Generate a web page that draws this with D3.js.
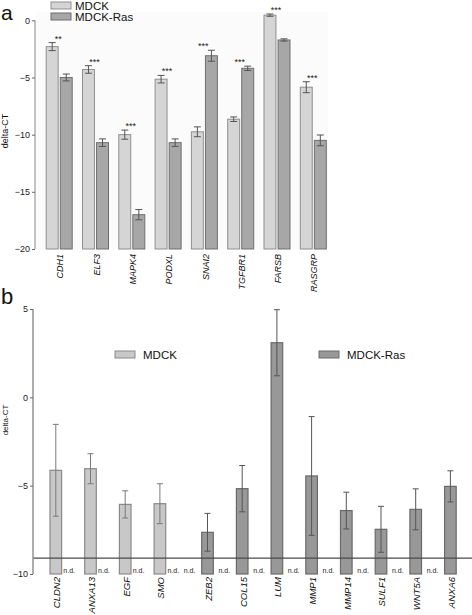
<!DOCTYPE html>
<html><head><meta charset="utf-8">
<script src="https://cdn.jsdelivr.net/npm/d3@7"></script>
<style>
body{margin:0;background:#fff;}
svg{display:block;font-family:"Liberation Sans",Arial,Helvetica,sans-serif;}
</style></head>
<body>
<svg id="chart" width="472" height="615"></svg>
<script>
// ---------- Panel a data ----------
const seriesNames = ["MDCK", "MDCK-Ras"];
const genesA = ["CDH1","ELF3","MAPK4","PODXL","SNAI2","TGFBR1","FARSB","RASGRP"];
const mdckA = [-2.3, -4.3, -10.0, -5.15, -9.75, -8.65, 0.45, -5.85];
const mdckAErr = [0.35, 0.33, 0.4, 0.33, 0.43, 0.2, 0.1, 0.48];
const rasA = [-5.0, -10.7, -17.0, -10.7, -3.1, -4.2, -1.72, -10.5];
const rasAErr = [0.3, 0.33, 0.45, 0.33, 0.48, 0.19, 0.1, 0.47];
const starsA = ["**","***","***","***","***","***","***","***"];
const yTicksA = [0, -5, -10, -15, -20];

// ---------- Panel b data ----------
const genesB = ["CLDN2","ANXA13","EGF","SMO","ZEB2","COL15","LUM","MMP1","MMP14","SULF1","WNT5A","ANXA6"];
const mdckB = [-4.13, -4.04, -6.06, -6.02, null, null, null, null, null, null, null, null];
const mdckBErr = [2.6, 0.85, 0.77, 1.13, null, null, null, null, null, null, null, null];
const rasB = [null, null, null, null, -7.64, -5.17, 3.09, -4.45, -6.41, -7.47, -6.34, -5.04];
const rasBErr = [null, null, null, null, 1.07, 1.31, 1.87, 3.36, 1.04, 1.3, 1.16, 0.88];
const thresholdB = -9.1;
const yTicksB = [5, 0, -5, -10];

const svg = d3.select("#chart");

// ================= Panel a =================
const colA = {MDCK: {fill: "#d5d5d5", stroke: "#8f8f8f"}, "MDCK-Ras": {fill: "#a7a7a7", stroke: "#6f6f6f"}};
const yA = d3.scaleLinear().domain([-20, 0]).range([249, 20.3]);
const x0A = d3.scaleBand().domain(genesA).range([41, 331.4]);
const x1A = d3.scaleBand().domain(seriesNames).range([5.2, 31.2]).paddingInner(0.15);

svg.append("rect").attr("x", 36).attr("y", 12).attr("width", 292).attr("height", 237).attr("fill", "#fbfbfb");

const gA = svg.append("g");
const dataA = genesA.map((g, i) => ({gene: g, vals: [
  {s: "MDCK", v: mdckA[i], e: mdckAErr[i]},
  {s: "MDCK-Ras", v: rasA[i], e: rasAErr[i]}]}));

const grpA = gA.selectAll("g.grp").data(dataA).join("g").attr("class", "grp")
  .attr("transform", d => `translate(${x0A(d.gene)},0)`);
grpA.selectAll("rect").data(d => d.vals).join("rect")
  .attr("x", d => x1A(d.s)).attr("width", x1A.bandwidth())
  .attr("y", d => yA(d.v)).attr("height", d => yA(-20) - yA(d.v))
  .attr("fill", d => colA[d.s].fill).attr("stroke", d => colA[d.s].stroke).attr("stroke-width", 1);
grpA.selectAll("g.err").data(d => d.vals).join("g").attr("class", "err").each(function(d) {
  const cx = x1A(d.s) + x1A.bandwidth() / 2, g = d3.select(this);
  g.append("line").attr("x1", cx).attr("x2", cx).attr("y1", yA(d.v + d.e)).attr("y2", yA(d.v - d.e));
  g.append("line").attr("x1", cx - 3.5).attr("x2", cx + 3.5).attr("y1", yA(d.v + d.e)).attr("y2", yA(d.v + d.e));
  g.append("line").attr("x1", cx - 3.5).attr("x2", cx + 3.5).attr("y1", yA(d.v - d.e)).attr("y2", yA(d.v - d.e));
}).attr("stroke", "#555").attr("stroke-width", 1);
grpA.append("text")
  .attr("x", x0A.bandwidth() / 2 - 1)
  .attr("y", (d, i) => yA(Math.max(mdckA[i] + mdckAErr[i], rasA[i] + rasAErr[i])) - 1)
  .attr("text-anchor", "middle").attr("font-size", 9).attr("fill", "#222")
  .text((d, i) => starsA[i]);

// axis a
const axA = svg.append("g").attr("transform", "translate(35,0)")
  .call(d3.axisLeft(yA).tickValues(yTicksA).tickSize(3).tickPadding(2).tickFormat(d3.format("d")));
axA.select(".domain").attr("stroke", "#888").attr("d", `M0,${yA(0)}V${yA(-20)}`);
axA.selectAll(".tick line").attr("stroke", "#666");
axA.selectAll(".tick text").attr("font-size", 9).attr("fill", "#222").attr("font-family", "Liberation Sans, Arial, sans-serif");

// x labels a
svg.append("g").selectAll("text").data(genesA).join("text")
  .attr("transform", d => `translate(${x0A(d) + x0A.bandwidth() / 2 + 1},254) rotate(-90)`)
  .attr("text-anchor", "end").attr("dy", "0.35em")
  .attr("font-size", 9).attr("font-style", "italic").attr("fill", "#111").text(d => d);

// y label a
svg.append("text").attr("transform", "translate(8,131) rotate(-90)")
  .attr("text-anchor", "middle").attr("font-size", 9).attr("fill", "#111").text("delta-CT");

// legend a
const legA = svg.append("g");
seriesNames.forEach((s, i) => {
  legA.append("rect").attr("x", 51).attr("y", 2 + i * 11).attr("width", 20).attr("height", 7)
    .attr("fill", colA[s].fill).attr("stroke", colA[s].stroke);
  legA.append("text").attr("x", 75).attr("y", 6 + i * 11).attr("dy", "0.36em")
    .attr("font-size", 11.5).attr("fill", "#111").text(s);
});

svg.append("text").attr("x", 1).attr("y", 19.5).attr("font-size", 21).attr("fill", "#111").text("a");

// ================= Panel b =================
const colB = {MDCK: {fill: "#c8c8c8", stroke: "#8a8a8a", err: "#7a7a7a"}, "MDCK-Ras": {fill: "#989898", stroke: "#6a6a6a", err: "#555"}};
const yB = d3.scaleLinear().domain([-10, 5]).range([574, 309]);
const x0B = d3.scaleBand().domain(genesB).range([44, 460.4]);
const x1B = d3.scaleBand().domain(seriesNames).range([6, 30.5]).paddingInner(0.1);

const dataB = genesB.map((g, i) => ({gene: g, vals: [
  {s: "MDCK", v: mdckB[i], e: mdckBErr[i]},
  {s: "MDCK-Ras", v: rasB[i], e: rasBErr[i]}]}));

const grpB = svg.append("g").selectAll("g.grp").data(dataB).join("g").attr("class", "grp")
  .attr("transform", d => `translate(${x0B(d.gene)},0)`);
grpB.selectAll("rect").data(d => d.vals.filter(v => v.v !== null)).join("rect")
  .attr("x", d => x1B(d.s)).attr("width", x1B.bandwidth())
  .attr("y", d => yB(d.v)).attr("height", d => yB(-10) - yB(d.v))
  .attr("fill", d => colB[d.s].fill).attr("stroke", d => colB[d.s].stroke).attr("stroke-width", 1.2);
grpB.selectAll("g.err").data(d => d.vals.filter(v => v.v !== null)).join("g").attr("class", "err").each(function(d) {
  const cx = x1B(d.s) + x1B.bandwidth() / 2, g = d3.select(this);
  g.attr("stroke", colB[d.s].err).attr("stroke-width", 1);
  g.append("line").attr("x1", cx).attr("x2", cx).attr("y1", yB(d.v + d.e)).attr("y2", yB(d.v - d.e));
  g.append("line").attr("x1", cx - 3).attr("x2", cx + 3).attr("y1", yB(d.v + d.e)).attr("y2", yB(d.v + d.e));
  g.append("line").attr("x1", cx - 3).attr("x2", cx + 3).attr("y1", yB(d.v - d.e)).attr("y2", yB(d.v - d.e));
});
grpB.selectAll("text.nd").data(d => d.vals.filter(v => v.v === null)).join("text").attr("class", "nd")
  .attr("x", d => x1B(d.s) + x1B.bandwidth() / 2 + (d.s === "MDCK" ? -5 : 0.5))
  .attr("y", 573).attr("text-anchor", "middle").attr("font-size", 7).attr("fill", "#222").text("n.d.");

// threshold line
svg.append("line").attr("x1", 33).attr("x2", 472).attr("y1", yB(thresholdB)).attr("y2", yB(thresholdB))
  .attr("stroke", "#4a4a4a").attr("stroke-width", 1.4);

// axis b
const axB = svg.append("g").attr("transform", "translate(33,0)")
  .call(d3.axisLeft(yB).tickValues(yTicksB).tickSize(3).tickPadding(2).tickFormat(d3.format("d")));
axB.select(".domain").attr("stroke", "#999").attr("stroke-width", 1.6).attr("d", `M0,${yB(5)}V${yB(-10)}`);
axB.selectAll(".tick line").attr("stroke", "#666");
axB.selectAll(".tick text").attr("font-size", 9).attr("fill", "#222").attr("font-family", "Liberation Sans, Arial, sans-serif");

// x labels b
svg.append("g").selectAll("text").data(dataB).join("text")
  .attr("transform", d => {
    const s = d.vals[0].v !== null ? "MDCK" : "MDCK-Ras";
    return `translate(${x0B(d.gene) + x1B(s) + x1B.bandwidth() / 2 + 1},577) rotate(-90)`;
  })
  .attr("text-anchor", "end").attr("dy", "0.35em")
  .attr("font-size", 9.5).attr("font-style", "italic").attr("fill", "#111").text(d => d.gene);

// y label b
svg.append("text").attr("transform", "translate(8,420) rotate(-90)")
  .attr("text-anchor", "middle").attr("font-size", 8).attr("fill", "#111").text("delta-CT");

// legend b
const legBx = [115, 319];
seriesNames.forEach((s, i) => {
  svg.append("rect").attr("x", legBx[i]).attr("y", 351).attr("width", 20).attr("height", 7)
    .attr("fill", colB[s].fill).attr("stroke", colB[s].stroke);
  svg.append("text").attr("x", legBx[i] + 28).attr("y", 355).attr("dy", "0.36em")
    .attr("font-size", 11.5).attr("fill", "#111").text(s);
});

svg.append("text").attr("x", 1).attr("y", 304).attr("font-size", 22).attr("fill", "#111").text("b");
</script>
</body></html>
